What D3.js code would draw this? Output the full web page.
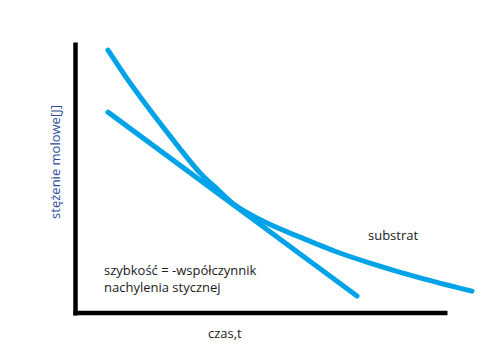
<!DOCTYPE html>
<html>
<head>
<meta charset="utf-8">
<script src="https://cdn.jsdelivr.net/npm/d3@7"></script>
<style>
  body { margin: 0; background: #fff; }
  text { font-family: "Open Sans", sans-serif; }
</style>
</head>
<body>
<div id="chart"></div>
<script>
// krzywa substratu i styczna (jednostki umowne)
let curveT = [8.25, 14.5, 23, 31.25, 35, 40, 48, 56.25, 65.5, 73.75, 86.25, 99.25];
let curveC = [97.4, 83.7, 67.0, 51.9, 46.7, 40.0, 33.3, 28.1, 22.6, 18.5, 13.0, 8.1];
let tangentT = [8.25, 70.5];
let tangentC = [74.4, 6.3];

let yLabel = "stężenie molowe[J]";
let xLabel = "czas,t";
let seriesLabel = "substrat";
let noteLines = ["szybkość = -współczynnik", "nachylenia stycznej"];

let width = 495, height = 364;

let svg = d3.select("#chart").append("svg")
    .attr("width", width)
    .attr("height", height);

let x = d3.scaleLinear().domain([0, 100]).range([75, 475]);
let y = d3.scaleLinear().domain([0, 100]).range([313, 43]);

// osie bez podziałek
let yAxisScale = d3.scaleLinear().range([315, 42]);
let xAxisScale = d3.scaleLinear().range([73, 447]);

svg.append("g")
    .attr("transform", "translate(75,0)")
    .call(d3.axisLeft(yAxisScale).tickValues([]).tickSizeOuter(0))
    .select(".domain")
    .attr("stroke", "#000")
    .attr("stroke-width", 4.5);

svg.append("g")
    .attr("transform", "translate(0,312.5)")
    .call(d3.axisBottom(xAxisScale).tickValues([]).tickSizeOuter(0))
    .select(".domain")
    .attr("stroke", "#000")
    .attr("stroke-width", 4.5);

let curveData = curveT.map((t, i) => ({t: t, c: curveC[i]}));
let tangentData = tangentT.map((t, i) => ({t: t, c: tangentC[i]}));

let line = d3.line()
    .x(d => x(d.t))
    .y(d => y(d.c));

svg.append("path")
    .datum(curveData)
    .attr("d", line.curve(d3.curveCatmullRom))
    .attr("fill", "none")
    .attr("stroke", "#00a2e8")
    .attr("stroke-width", 5)
    .attr("stroke-linecap", "round");

svg.append("path")
    .datum(tangentData)
    .attr("d", d3.line().x(d => x(d.t)).y(d => y(d.c)))
    .attr("fill", "none")
    .attr("stroke", "#00a2e8")
    .attr("stroke-width", 5)
    .attr("stroke-linecap", "round");

// opisy
svg.append("text")
    .attr("transform", "translate(60,162) rotate(-90)")
    .attr("text-anchor", "middle")
    .style("font-size", "13px")
    .attr("fill", "#2f4c9c")
    .text(yLabel);

svg.append("text")
    .attr("x", 208)
    .attr("y", 338)
    .style("font-size", "13px")
    .attr("fill", "#1a1a1a")
    .text(xLabel);

svg.append("text")
    .attr("x", 368)
    .attr("y", 240)
    .style("font-size", "13px")
    .attr("fill", "#1a1a1a")
    .text(seriesLabel);

svg.selectAll(".note")
    .data(noteLines)
    .enter()
    .append("text")
    .attr("class", "note")
    .attr("x", 104)
    .attr("y", (d, i) => 275 + i * 17)
    .style("font-size", "13px")
    .attr("fill", "#1a1a1a")
    .text(d => d);
</script>
</body>
</html>
